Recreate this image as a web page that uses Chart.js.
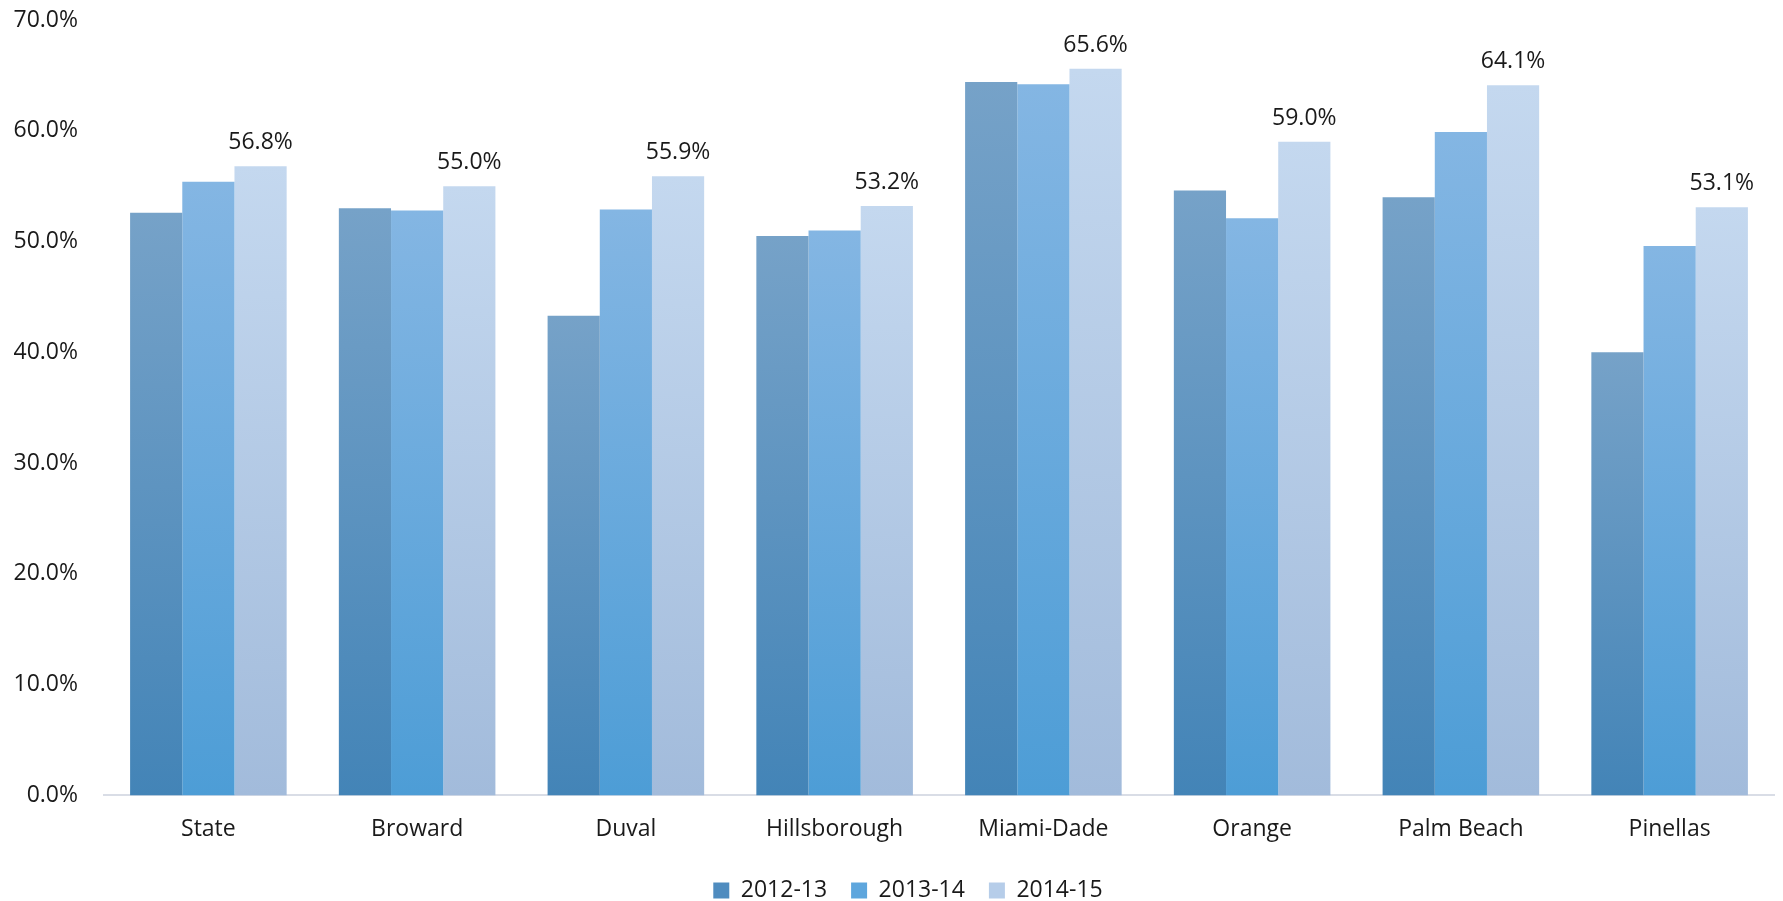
<!DOCTYPE html>
<html>
<head>
<meta charset="utf-8">
<script src="https://cdn.jsdelivr.net/npm/chart.js@4/dist/chart.umd.min.js"></script>
<style>
  html, body { margin: 0; padding: 0; background: #fff; }
  #wrap { width: 1783px; height: 901px; }
</style>
</head>
<body>
<div id="wrap"><canvas id="rateChart"></canvas></div>
<script>
const districts = ['State', 'Broward', 'Duval', 'Hillsborough', 'Miami-Dade', 'Orange', 'Palm Beach', 'Pinellas']
const years = ['2012-13', '2013-14', '2014-15']
const rate1213 = [52.6, 53.0, 43.3, 50.5, 64.4, 54.6, 54.0, 40.0]
const rate1314 = [55.4, 52.8, 52.9, 51.0, 64.2, 52.1, 59.9, 49.6]
const rate1415 = [56.8, 55.0, 55.9, 53.2, 65.6, 59.0, 64.1, 53.1]
const yTicks = [0, 10, 20, 30, 40, 50, 60, 70]

// top / bottom colour of each series' bar gradient
const shades = [
    ['#76a2c8', '#4384b7'],
    ['#84b6e3', '#4d9dd6'],
    ['#c4d8ef', '#a2bbdb'],
]
const legendColors = ['#4f8cbf', '#5ea6dd', '#b6cde9']

const barFill = (shade) => (ctx) => {
    const chart = ctx.chart
    const area = chart.chartArea
    const y = chart.scales.y
    if (!area || !y || ctx.raw === undefined) return shade[1]
    const top = y.getPixelForValue(ctx.raw)
    const g = chart.ctx.createLinearGradient(0, top, 0, area.bottom)
    g.addColorStop(0, shade[0])
    g.addColorStop(1, shade[1])
    return g
}

// value labels over the latest year's bars
const lastYearLabels = {
    id: 'lastYearLabels',
    afterDatasetsDraw(chart) {
        const meta = chart.getDatasetMeta(2)
        const c = chart.ctx
        c.save()
        c.font = '23px "Open Sans"'
        c.fillStyle = '#1a1a1a'
        c.textAlign = 'center'
        c.textBaseline = 'bottom'
        meta.data.forEach((bar, i) => {
            c.fillText(rate1415[i].toFixed(1) + '%', bar.x, bar.y - 12)
        })
        c.restore()
    }
}

// nudge the legend a little to the right of the canvas centre
const legendShift = {
    id: 'legendShift',
    afterLayout(chart) {
        if (!chart.legend) return
        chart.legend.left += 21
        chart.legend.right += 21
    }
}

const seriesData = [rate1213, rate1314, rate1415]

new Chart(document.getElementById('rateChart'), {
    type: 'bar',
    data: {
        labels: districts,
        datasets: years.map((label, i) => ({
            label,
            data: seriesData[i],
            backgroundColor: barFill(shades[i]),
            categoryPercentage: 0.75,
            barPercentage: 1.0,
        }))
    },
    options: {
        responsive: true,
        maintainAspectRatio: false,
        animation: false,
        layout: { padding: { top: 0, right: 9, bottom: -11, left: 0 } },
        scales: {
            x: {
                grid: { display: false },
                border: { color: '#d9dde6', width: 2 },
                ticks: {
                    color: '#1a1a1a',
                    padding: 12,
                    font: { family: 'Open Sans', size: 23 }
                }
            },
            y: {
                min: 0,
                max: 70,
                afterBuildTicks: (axis) => { axis.ticks = yTicks.map(v => ({ value: v })) },
                afterFit: (axis) => {
                    axis.width = 104
                    axis.paddingTop = 20
                },
                grid: { display: false },
                border: { display: false },
                ticks: {
                    color: '#1a1a1a',
                    padding: 18,
                    font: { family: 'Open Sans', size: 23 },
                    callback: (v) => v.toFixed(1) + '%'
                }
            }
        },
        plugins: {
            tooltip: { enabled: false },
            legend: {
                position: 'bottom',
                labels: {
                    color: '#1a1a1a',
                    boxWidth: 16,
                    boxHeight: 16,
                    padding: 24,
                    font: { family: 'Open Sans', size: 23 },
                    generateLabels: () => years.map((text, i) => ({
                        text,
                        fillStyle: legendColors[i],
                        strokeStyle: legendColors[i],
                        lineWidth: 0,
                        datasetIndex: i,
                        fontColor: '#1a1a1a'
                    }))
                }
            }
        }
    },
    plugins: [lastYearLabels, legendShift]
});
</script>
</body>
</html>
